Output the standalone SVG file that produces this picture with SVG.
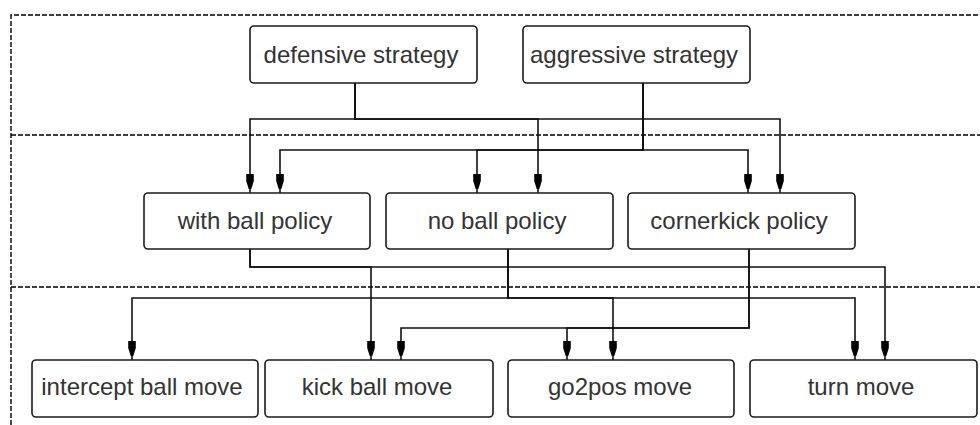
<svg xmlns="http://www.w3.org/2000/svg" width="980" height="425" viewBox="0 0 980 425">
  <style>
    .frame { fill: none; stroke: #000; stroke-width: 1.4; stroke-dasharray: 5 2; }
    .box { fill: #fff; stroke: #1a1a1a; stroke-width: 1.6; }
    .label { font-family: "Liberation Sans", Arial, sans-serif; font-size: 24px; fill: #333; text-anchor: middle; }
    .edge { fill: none; stroke: #111; stroke-width: 1.6; marker-end: url(#head); }
  </style>
  <defs>
    <marker id="head" markerUnits="userSpaceOnUse" markerWidth="24" markerHeight="12" viewBox="-22 -6 24 12" refX="0" refY="0" orient="auto">
      <path d="M-19,-3.8 L-12,-3.8 L-4,-1.3 L-4,1.3 L-12,3.8 L-19,3.8 Z" fill="#000"/>
    </marker>
  </defs>

  <rect width="980" height="425" fill="#fff"/>

  <!-- layer frame and separators -->
  <g id="layers">
    <path class="frame" d="M11,425 V15 H980"/>
    <path class="frame" d="M11,135 H980"/>
    <path class="frame" d="M11,287 H980"/>
  </g>

  <!-- connectors -->
  <g id="connectors">
    <!-- defensive strategy -->
    <path class="edge" d="M355,83 V119 H250 V193"/>
    <path class="edge" d="M355,83 V119 H538 V193"/>
    <path class="edge" d="M355,83 V119 H780 V193"/>
    <!-- aggressive strategy -->
    <path class="edge" d="M643,83 V150 H280 V193"/>
    <path class="edge" d="M643,83 V150 H477 V193"/>
    <path class="edge" d="M643,83 V150 H748 V193"/>
    <!-- with ball policy -->
    <path class="edge" d="M250,249 V267 H371 V360"/>
    <path class="edge" d="M250,249 V267 H885 V360"/>
    <!-- no ball policy -->
    <path class="edge" d="M508,249 V298 H132 V360"/>
    <path class="edge" d="M508,249 V298 H613 V360"/>
    <path class="edge" d="M508,249 V298 H855 V360"/>
    <!-- cornerkick policy -->
    <path class="edge" d="M749,249 V328 H401 V360"/>
    <path class="edge" d="M749,249 V328 H567 V360"/>
  </g>

  <!-- strategies -->
  <g id="defensive-strategy">
    <rect class="box" x="250" y="26" width="227" height="57" rx="4"/>
    <text class="label" x="361" y="63">defensive strategy</text>
  </g>
  <g id="aggressive-strategy">
    <rect class="box" x="523" y="26" width="227" height="57" rx="4"/>
    <text class="label" x="634" y="63">aggressive strategy</text>
  </g>

  <!-- policies -->
  <g id="with-ball-policy">
    <rect class="box" x="144" y="193" width="226" height="56" rx="4"/>
    <text class="label" x="255" y="229">with ball policy</text>
  </g>
  <g id="no-ball-policy">
    <rect class="box" x="386" y="193" width="227" height="56" rx="4"/>
    <text class="label" x="497" y="229">no ball policy</text>
  </g>
  <g id="cornerkick-policy">
    <rect class="box" x="628" y="193" width="227" height="56" rx="4"/>
    <text class="label" x="739" y="229">cornerkick policy</text>
  </g>

  <!-- moves -->
  <g id="intercept-ball-move">
    <rect class="box" x="32" y="360" width="226" height="57" rx="4"/>
    <text class="label" x="142" y="395">intercept ball move</text>
  </g>
  <g id="kick-ball-move">
    <rect class="box" x="265" y="360" width="228" height="57" rx="4"/>
    <text class="label" x="377" y="395">kick ball move</text>
  </g>
  <g id="go2pos-move">
    <rect class="box" x="508" y="360" width="226" height="57" rx="4"/>
    <text class="label" x="620" y="395">go2pos move</text>
  </g>
  <g id="turn-move">
    <rect class="box" x="750" y="360" width="227" height="57" rx="4"/>
    <text class="label" x="861" y="395">turn move</text>
  </g>
</svg>
